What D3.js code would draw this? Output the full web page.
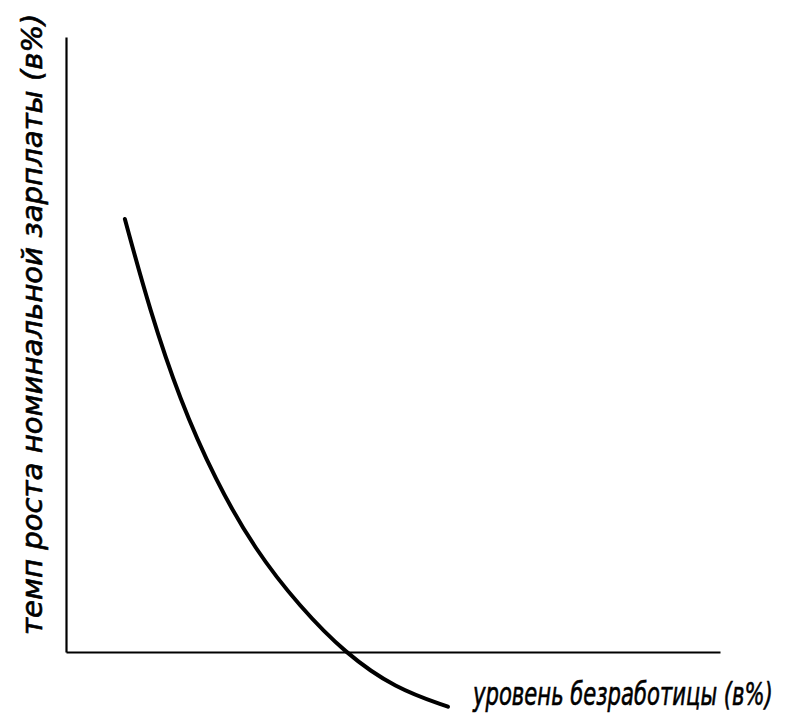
<!DOCTYPE html>
<html>
<head>
<meta charset="utf-8">
<script src="https://cdn.jsdelivr.net/npm/d3@7"></script>
<style>
  body { margin: 0; background: #fff; }
  text { font-family: "DejaVu Sans Condensed", "Liberation Sans Narrow", sans-serif; font-style: italic; fill: #000; }
</style>
</head>
<body>
<div class="main"></div>
<script>
// Phillips curve, values (unitless axes)
const unemployment = [0.90, 1.28, 1.74, 2.28, 2.89, 3.58, 4.27, 5.03, 5.84]
const wageGrowth = [7.04, 5.56, 4.10, 2.80, 1.66, 0.73, -0.02, -0.59, -0.89]
const xLabel = "уровень безработицы (в%)"
const yLabel = "темп роста  номинальной  зарплаты (в%)"

const width = 786
const height = 718
const margin = ({top: 37, right: 66, bottom: 66, left: 66})

const x = d3.scaleLinear()
  .domain([0, 10])
  .range([margin.left, width - margin.right])

const y = d3.scaleLinear()
  .domain([0, 10])
  .range([height - margin.bottom, margin.top])

const svg = d3.select(".main")
  .append("svg")
    .attr("width", width)
    .attr("height", height)

// axes: plain lines, no ticks
svg.append("g")
    .attr("transform", `translate(0, ${y(0)})`)
    .call(d3.axisBottom(x).tickValues([]).tickSizeOuter(0))
    .call(g => g.select(".domain").attr("stroke-width", 2.2))

svg.append("g")
    .attr("transform", `translate(${x(0)}, 0)`)
    .call(d3.axisLeft(y).tickValues([]).tickSizeOuter(0))
    .call(g => g.select(".domain").attr("stroke-width", 2.2))

const points = unemployment.map((u, i) => [u, wageGrowth[i]])

// basis keeps the hand-drawn curve smooth
const line = d3.line()
  .x(d => x(d[0]))
  .y(d => y(d[1]))
  .curve(d3.curveBasis)

svg.append("path")
  .datum(points)
  .attr("d", line)
  .attr("fill", "none")
  .attr("stroke", "#000")
  .attr("stroke-width", 4)
  .attr("stroke-linecap", "round")

// axis titles, squeezed horizontally to the hand-lettered width
function label(txt, size, len, place) {
  const t = svg.append("text")
    .attr("font-size", size)
    .attr("stroke", "#000")
    .attr("stroke-width", 0.6)
    .text(txt)
  const k = len / t.node().getComputedTextLength()
  t.attr("transform", `${place} scale(${k}, 1)`)
}

label(xLabel, 32, 300, "translate(473, 705)")
label(yLabel, 28, 622, "translate(42, 635) rotate(-90)")
</script>
</body>
</html>
